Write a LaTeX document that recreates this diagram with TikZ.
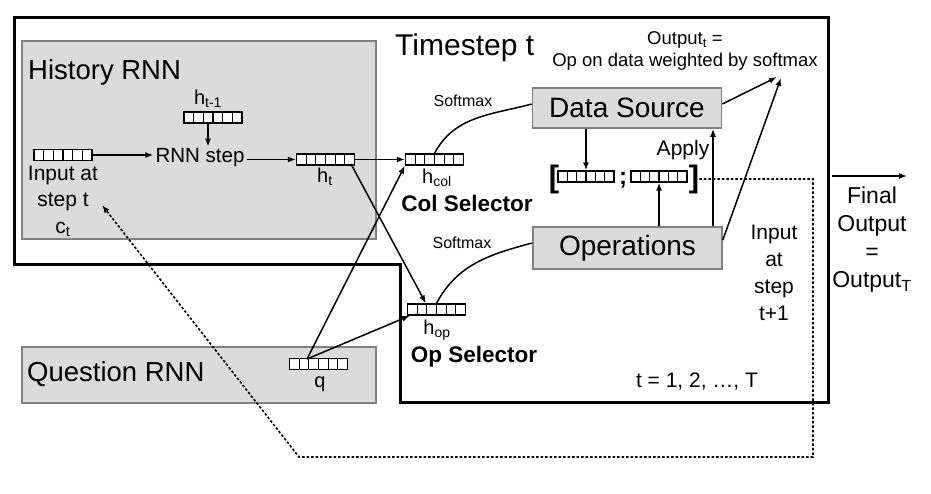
\documentclass[tikz,border=0pt]{standalone}
\usepackage{fontspec}
\setmainfont{Liberation Sans}
\usetikzlibrary{arrows.meta,calc}
\begin{document}
\begin{tikzpicture}[x=1pt,y=-1pt,
  graybox/.style={draw=black!50, fill=black!14, line width=1.6pt, inner sep=0pt},
  vec/.style={draw, fill=white, minimum width=58pt, minimum height=11pt, inner sep=0pt, line width=1.3pt,
    path picture={\foreach \k in {1,...,5}{\draw[line width=1.1pt]
      ($(path picture bounding box.south west)!\k/6!(path picture bounding box.south east)$) --
      ($(path picture bounding box.north west)!\k/6!(path picture bounding box.north east)$);}}},
  lbl/.style={inner sep=0pt},
  arr/.style={line width=1.5pt, -{Latex[length=8pt,width=6pt]}},
  ln/.style={line width=1.5pt},
  dotl/.style={line width=1.6pt, dash pattern=on 2.5pt off 2pt},
]
\useasboundingbox (0,0) rectangle (931,493);
\fill[white] (0,0) rectangle (931,493);

% gray boxes
\node[graybox, minimum width=354pt, minimum height=198pt] (hist) at (199,140) {};
\node[graybox, minimum width=354pt, minimum height=56pt] (ques) at (199,375) {};

% timestep frame
\draw[line width=3pt, line join=miter] (14,17) -- (828,17) -- (828,402) -- (400,402) -- (400,264) -- (14,264) -- cycle;

% titles
\node[lbl, anchor=base west, font=\fontsize{27.5}{32}\selectfont] (histt) at (28,79) {History RNN};
\node[lbl, anchor=base west, font=\fontsize{27.5}{32}\selectfont] (qt) at (27,381) {Question RNN};
\node[lbl, anchor=base west, font=\fontsize{30}{36}\selectfont] (tst) at (395,55) {Timestep t};

% vectors
\node[vec] (vin) at (63,155) {};
\node[vec] (vprev) at (213,117.5) {};
\node[vec] (vht) at (325.5,159.5) {};
\node[vec] (vcol) at (434.5,159.5) {};
\node[vec] (vop) at (436.5,309.5) {};
\node[vec] (vq) at (318.5,364) {};
\node[vec, minimum width=56pt] (vb1) at (586,176.5) {};
\node[vec, minimum width=56pt] (vb2) at (659,176.5) {};

% labels
\node[lbl, font=\fontsize{20}{24}\selectfont] (hprevt) at (208,99) {h\textsubscript{t-1}};
\node[inner sep=2pt, font=\fontsize{20.5}{24}\selectfont] (rnn) at (200,158) {RNN step};
\node[lbl, align=center, font=\fontsize{21}{26}\selectfont] (inp) at (63,188) {Input at\\step t};
\node[lbl, font=\fontsize{21}{25}\selectfont] (ct) at (63,229) {c\textsubscript{t}};
\node[lbl, font=\fontsize{20}{24}\selectfont] (htt) at (325,177) {h\textsubscript{t}};
\node[lbl, font=\fontsize{20}{24}\selectfont] (hcolt) at (437,178) {h\textsubscript{col}};
\node[lbl, font=\bfseries\fontsize{22.5}{27}\selectfont] (colsel) at (467,203) {Col Selector};
\node[lbl, font=\fontsize{20}{24}\selectfont] (hopt) at (437,330) {h\textsubscript{op}};
\node[lbl, font=\bfseries\fontsize{22.5}{27}\selectfont] (opsel) at (474,357) {Op Selector};
\node[lbl, font=\fontsize{20}{24}\selectfont] (qlab) at (320,384) {q};
\node[lbl, font=\fontsize{16}{20}\selectfont] (sm1) at (463,101) {Softmax};
\node[lbl, font=\fontsize{16}{20}\selectfont] (sm2) at (462,243) {Softmax};
\node[lbl, align=center, font=\fontsize{18.5}{22}\selectfont] (outt) at (685,51) {Output\textsubscript{t} =\\Op on data weighted by softmax};
\node[lbl, font=\fontsize{21}{25}\selectfont] (apply) at (683,150) {Apply};
\node[lbl, font=\bfseries\fontsize{31}{36}\selectfont] (lb) at (554,179) {[};
\node[lbl, font=\bfseries\fontsize{31}{36}\selectfont] (rb) at (694,179) {]};
\node[lbl, font=\bfseries\fontsize{24}{28}\selectfont] (semi) at (623,180) {;};
\node[lbl, align=center, font=\fontsize{21}{27}\selectfont] (inp2) at (774,273) {Input\\at\\step\\t+1};
\node[lbl, align=center, font=\fontsize{23}{28}\selectfont] (fin) at (872,240) {Final\\Output\\=\\Output\textsubscript{T}};
\node[lbl, font=\fontsize{21}{25}\selectfont] (tseq) at (697,382) {t = 1, 2, …, T};

% data source / operations
\node[graybox, minimum width=189pt, minimum height=40pt, font=\fontsize{28}{32}\selectfont] (ds) at (627,108) {Data Source};
\node[graybox, minimum width=189pt, minimum height=42pt, font=\fontsize{28}{32}\selectfont] (ops) at (627.5,248) {Operations};

% connectors in History RNN
\draw[arr] (vin.east) -- (vin.east -| rnn.west);
\draw[arr] (vprev.south -| hprevt) -- (rnn.north -| hprevt);
\draw[arr] (rnn.east |- vht.west) -- (vht.west);
\draw[arr] (vht.east) -- (vcol.west);

\coordinate (htd) at (351,164);
\draw[arr] (htd) -- ([xshift=19pt]vop.north west);
\coordinate (qs) at (307,359);
\draw[arr] (qs) -- (vcol.south west);
\draw[arr] (qs) -- ([xshift=3pt]vop.south west);

% softmax curves
\draw[ln] (vcol.north) to[out=62,in=195] ([yshift=4pt]ds.west);
\draw[ln] (vop.north) to[out=62,in=195] ([yshift=5pt]ops.west);

% vertical arrows
\draw[arr] (ds.south -| vb1) -- (vb1.north);
\draw[arr] (ops.north -| vb2) -- (vb2.south);
\coordinate (apx) at (713,0);
\draw[arr] (ops.north -| apx) -- (ds.south -| apx);

% output arrows
\coordinate (o1) at (777,77);
\coordinate (o2) at (781,78);
\draw[arr] ([yshift=4pt]ds.east) -- (o1);
\draw[arr] ([yshift=8pt]ops.east) -- (o2);

% final output
\coordinate (f1) at (832,176);
\coordinate (f2) at (907,176);
\draw[arr] (f1) -- (f2);

% dotted feedback
\coordinate (d1) at (813,180);
\coordinate (d2) at (813,457);
\coordinate (d3) at (299,457);
\coordinate (d4) at (102,205);
\draw[dotl, -{Latex[length=8pt,width=6pt]}] (rb.east) -- (rb.east -| d1) -- (d2) -- (d3) -- (d4);
\end{tikzpicture}
\end{document}
